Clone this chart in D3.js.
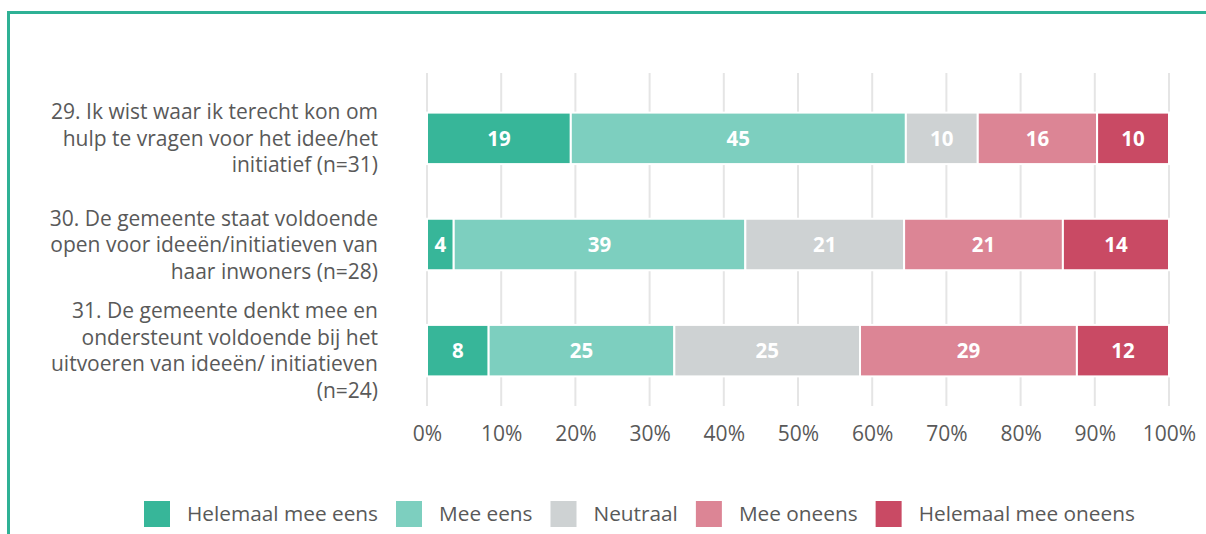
<!DOCTYPE html>
<html>
<head>
<meta charset="utf-8">
<script src="https://cdn.jsdelivr.net/npm/d3@7"></script>
<style>
  html, body { margin: 0; padding: 0; background: #fff; }
  svg { display: block; }
  text { font-family: "Open Sans", Lato, sans-serif; }
</style>
</head>
<body>
<svg id="chart" width="1206" height="534"></svg>
<script>
// ---- data ----
const categories = [
  ["29. Ik wist waar ik terecht kon om", "hulp te vragen voor het idee/het", "initiatief (n=31)"],
  ["30. De gemeente staat voldoende", "open voor ideeën/initiatieven van", "haar inwoners (n=28)"],
  ["31. De gemeente denkt mee en", "ondersteunt voldoende bij het", "uitvoeren van ideeën/ initiatieven", "(n=24)"]
];
const seriesNames = ["Helemaal mee eens", "Mee eens", "Neutraal", "Mee oneens", "Helemaal mee oneens"];
const helemaalMeeEens   = [19.4, 3.6, 8.3];
const meeEens           = [45.2, 39.3, 25.0];
const neutraal          = [9.7, 21.4, 25.0];
const meeOneens         = [16.1, 21.4, 29.2];
const helemaalMeeOneens = [9.7, 14.3, 12.4];
const tickValues = [0, 0.1, 0.2, 0.3, 0.4, 0.5, 0.6, 0.7, 0.8, 0.9, 1.0];
const colors = ["#37b699", "#7dcfbf", "#ced2d3", "#dc8595", "#c94a64"];

// ---- build table ----
const seriesArrays = [helemaalMeeEens, meeEens, neutraal, meeOneens, helemaalMeeOneens];
const rows = categories.map((c, i) => {
  const r = { idx: i };
  seriesNames.forEach((s, j) => r[s] = seriesArrays[j][i]);
  return r;
});
const stacked = d3.stack().keys(seriesNames).offset(d3.stackOffsetExpand)(rows);

const svg = d3.select("#chart");

// frame
svg.append("path")
  .attr("d", "M8.5,1000 L8.5,12.5 L1206,12.5")
  .attr("fill", "none").attr("stroke", "#2fb195").attr("stroke-width", 3);

const x = d3.scaleLinear().domain([0, 1]).range([427, 1169]);
const y = d3.scaleBand().domain(d3.range(categories.length)).range([85, 404]).paddingInner(0.515).paddingOuter(0.26);

// gridlines
svg.append("g").selectAll("line").data(tickValues).join("line")
  .attr("x1", d => x(d)).attr("x2", d => x(d))
  .attr("y1", 73).attr("y2", 406)
  .attr("stroke", "#e5e5e5").attr("stroke-width", 2);

// x axis labels
const axis = d3.axisBottom(x).tickValues(tickValues).tickFormat(d3.format(".0%")).tickSize(0).tickPadding(0);
const gAxis = svg.append("g").attr("transform", "translate(0,426)").call(axis);
gAxis.select(".domain").remove();
gAxis.selectAll("text").attr("font-size", 21).attr("fill", "#595959")
  .style("font-family", "'Open Sans', Lato, sans-serif");

// bars
const fmt = d3.format(".0f");
stacked.forEach((layer, j) => {
  const g = svg.append("g");
  g.selectAll("rect").data(layer).join("rect")
    .attr("x", d => x(d[0]))
    .attr("y", (d, i) => y(i))
    .attr("width", d => x(d[1]) - x(d[0]))
    .attr("height", y.bandwidth())
    .attr("fill", colors[j])
    .attr("stroke", "#fff").attr("stroke-width", 2);
  g.selectAll("text").data(layer).join("text")
    .attr("x", d => (x(d[0]) + x(d[1])) / 2)
    .attr("y", (d, i) => y(i) + y.bandwidth() / 2)
    .attr("dy", "0.36em")
    .attr("text-anchor", "middle")
    .attr("fill", "#fff").attr("font-weight", "bold").attr("font-size", 20.5)
    .text((d, i) => fmt(seriesArrays[j][i]));
});

// category labels
const lineH = 26.5;
categories.forEach((lines, i) => {
  const cy = y(i) + y.bandwidth() / 2;
  const t = svg.append("text")
    .attr("text-anchor", "end")
    .attr("font-size", 21).attr("fill", "#595959");
  lines.forEach((l, k) => {
    t.append("tspan").attr("x", 378)
      .attr("y", cy + (k - (lines.length - 1) / 2) * lineH)
      .attr("dy", "0.36em").text(l);
  });
});

// legend
const legend = svg.append("g");
let lx = 144;
seriesNames.forEach((s, j) => {
  legend.append("rect").attr("x", lx).attr("y", 501).attr("width", 26).attr("height", 26).attr("fill", colors[j]);
  const t = legend.append("text").attr("x", lx + 43).attr("y", 514).attr("dy", "0.36em")
    .attr("font-size", 20.8).attr("fill", "#595959").text(s);
  lx += 43 + t.node().getComputedTextLength() + 18;
});
</script>
</body>
</html>
